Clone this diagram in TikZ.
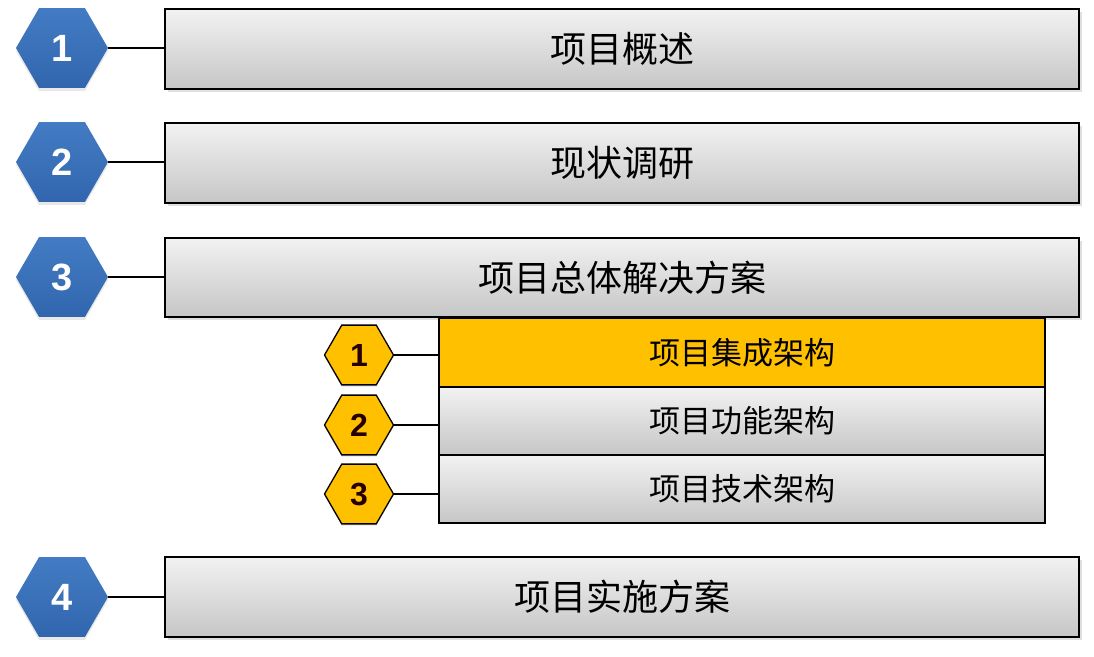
\documentclass[tikz,border=0pt]{standalone}
\usepackage{fontspec}
\setmainfont{Noto Sans CJK SC}
\newfontfamily\numfont{Liberation Sans}
\usetikzlibrary{shapes.geometric,shadows}
\definecolor{hexbluetop}{HTML}{437CC4}
\definecolor{hexbluebot}{HTML}{3166AE}
\definecolor{goldy}{HTML}{FFC000}
\definecolor{boxtop}{HTML}{F2F2F2}
\definecolor{boxbot}{HTML}{C6C6C6}
\tikzset{
  bigbox/.style={draw=black, line width=1.8pt, top color=boxtop, bottom color=boxbot,
    minimum width=914pt, minimum height=80pt, inner sep=0pt,
    font=\fontsize{36}{40}\selectfont,
    drop shadow={opacity=0.25, shadow xshift=3pt, shadow yshift=-3pt}},
  smallbox/.style={draw=black, line width=1.6pt, top color=boxtop, bottom color=boxbot,
    minimum width=606pt, minimum height=68pt, inner sep=0pt,
    font=\fontsize{31}{34}\selectfont},
  goldbox/.style={smallbox, fill=goldy, top color=goldy, bottom color=goldy},
  bluehex/.style={regular polygon, regular polygon sides=6, minimum size=92pt, inner sep=0pt,
    top color=hexbluetop, bottom color=hexbluebot, draw=none,
    text=white, font=\numfont\bfseries\fontsize{38}{40}\selectfont,
    drop shadow={opacity=0.18, shadow xshift=0pt, shadow yshift=-3pt}},
  goldhex/.style={regular polygon, regular polygon sides=6, minimum size=69pt, inner sep=0pt,
    fill=goldy, draw=black, line width=1.3pt,
    text=black!85!red, font=\numfont\bfseries\fontsize{32}{34}\selectfont,
    drop shadow={opacity=0.15, shadow xshift=0pt, shadow yshift=-2pt}},
  conn/.style={draw=black, line width=2.8pt},
}
\begin{document}
\begin{tikzpicture}[x=1pt,y=-1pt]
\useasboundingbox[fill=white] (0,0) rectangle (1094,656);
% big boxes
\node[bigbox] (b1) at (622,49) {项目概述};
\node[bigbox] (b2) at (622,163) {现状调研};
\node[bigbox, minimum height=79pt] (b3) at (622,277.5) {项目总体解决方案};
\node[bigbox] (b4) at (622,597) {项目实施方案};
% small boxes
\node[goldbox, minimum height=69pt] (s1) at (742,352.5) {项目集成架构};
\node[smallbox] (s2) at (742,421) {项目功能架构};
\node[smallbox] (s3) at (742,489) {项目技术架构};
% blue hexes
\node[bluehex] (h1) at (62,48) {1};
\node[bluehex] (h2) at (62,162) {2};
\node[bluehex] (h3) at (62,277) {3};
\node[bluehex] (h4) at (62,597) {4};
% gold hexes
\node[goldhex] (g1) at (359,355) {1};
\node[goldhex] (g2) at (359,425) {2};
\node[goldhex] (g3) at (359,494) {3};
% connectors
\foreach \h/\b in {h1/b1,h2/b2,h3/b3,h4/b4}{
  \draw[conn] (\h.east) -- (\h.east -| \b.west);
}
\foreach \h/\b in {g1/s1,g2/s2,g3/s3}{
  \draw[conn] (\h.east) -- (\h.east -| \b.west);
}
\end{tikzpicture}
\end{document}
